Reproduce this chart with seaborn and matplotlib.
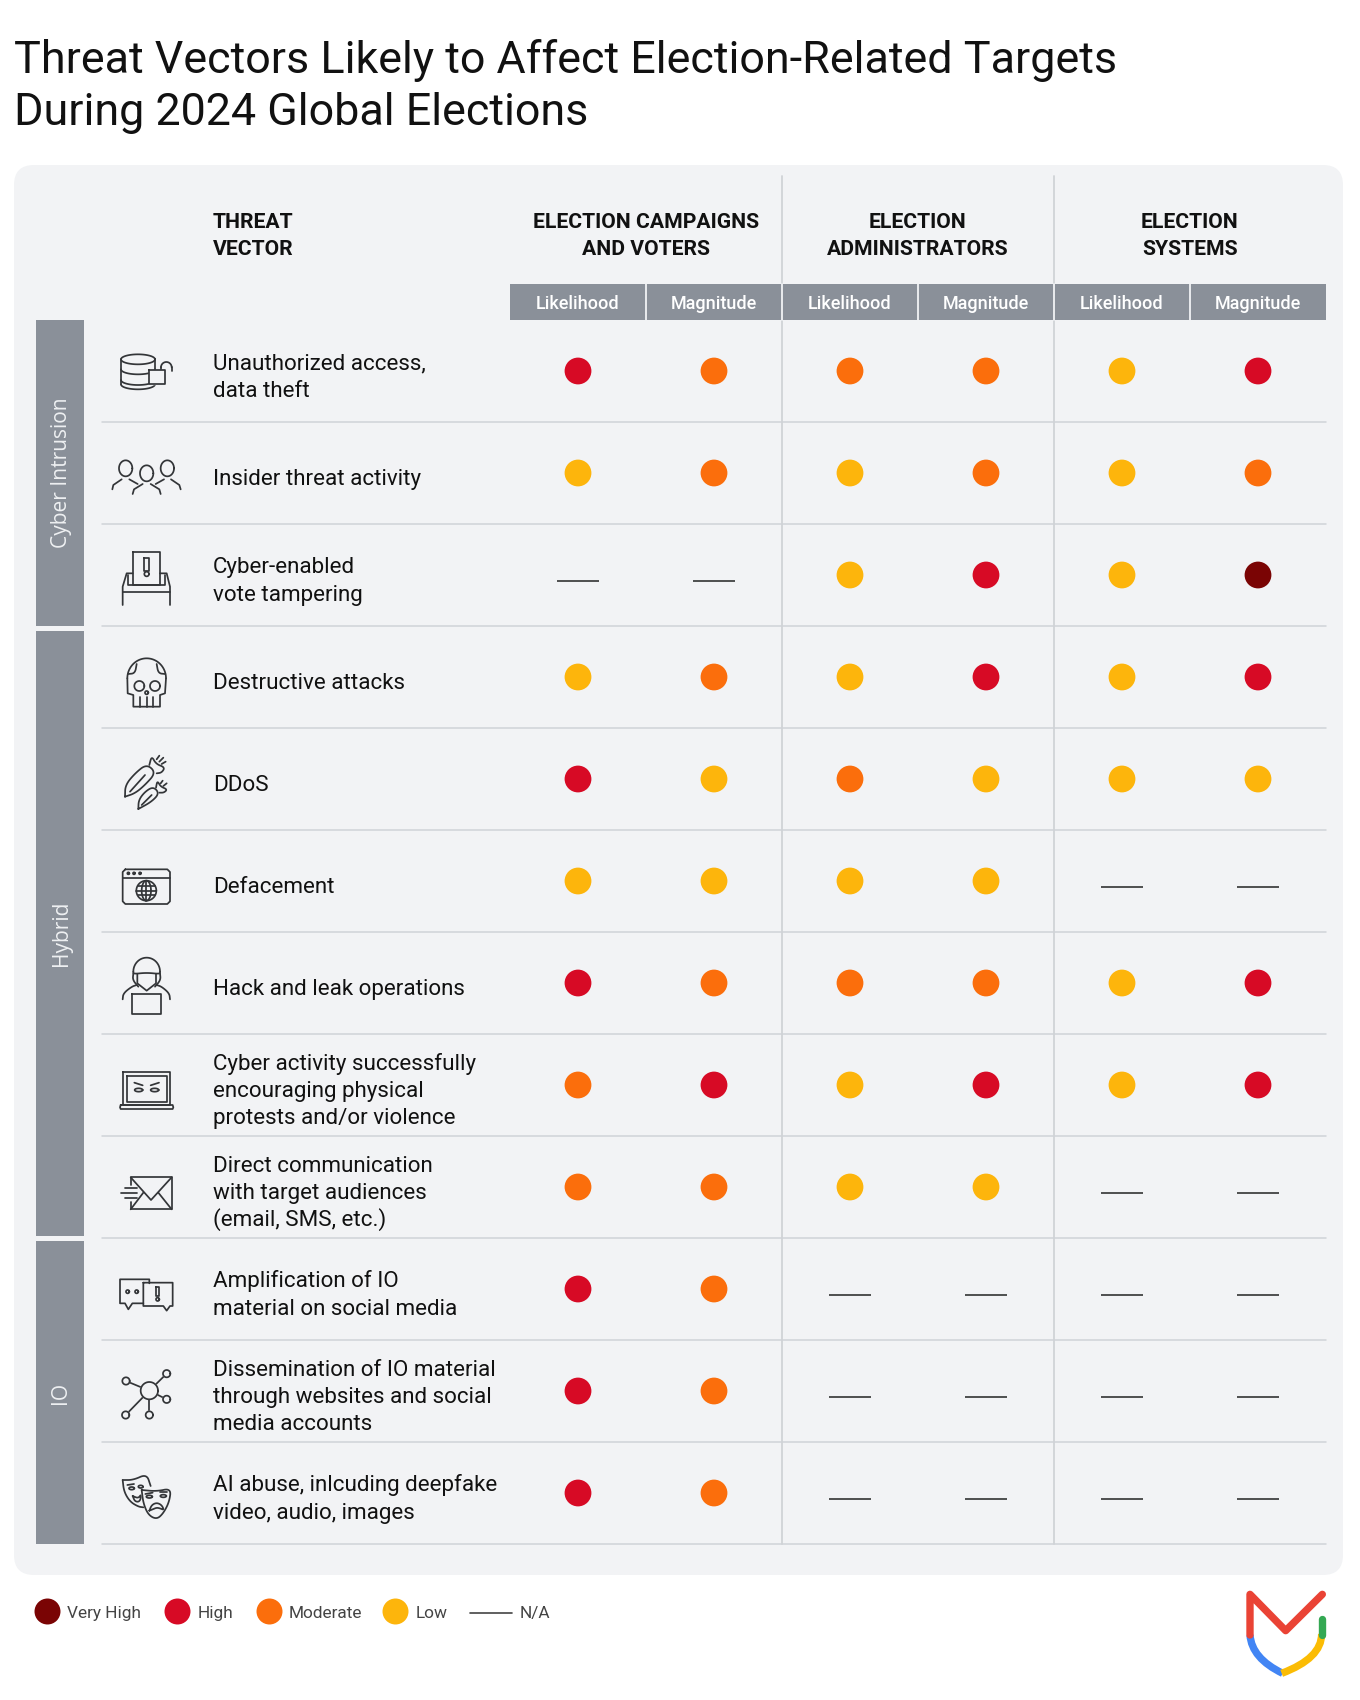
import numpy as np
import pandas as pd
import seaborn as sns
import matplotlib.pyplot as plt
from matplotlib.patches import FancyBboxPatch, PathPatch, Rectangle
from matplotlib.path import Path

# ---- data ----
title_lines = ['Threat Vectors Likely to Affect Election-Related Targets',
               'During 2024 Global Elections']
group_names = ['ELECTION CAMPAIGNS\nAND VOTERS', 'ELECTION\nADMINISTRATORS', 'ELECTION\nSYSTEMS']
sub_names = ['Likelihood', 'Magnitude'] * 3
vectors = ['Unauthorized access,\ndata theft',
           'Insider threat activity',
           'Cyber-enabled\nvote tampering',
           'Destructive attacks',
           'DDoS',
           'Defacement',
           'Hack and leak operations',
           'Cyber activity successfully\nencouraging physical\nprotests and/or violence',
           'Direct communication\nwith target audiences\n(email, SMS, etc.)',
           'Amplification of IO\nmaterial on social media',
           'Dissemination of IO material\nthrough websites and social\nmedia accounts',
           'AI abuse, inlcuding deepfake\nvideo, audio, images']
categories = ['Cyber Intrusion', 'Hybrid', 'IO']

campaign_likelihood = ['High', 'Low', 'N/A', 'Low', 'High', 'Low', 'High', 'Moderate', 'Moderate', 'High', 'High', 'High']
campaign_magnitude = ['Moderate', 'Moderate', 'N/A', 'Moderate', 'Low', 'Low', 'Moderate', 'High', 'Moderate', 'Moderate', 'Moderate', 'Moderate']
admin_likelihood = ['Moderate', 'Low', 'Low', 'Low', 'Moderate', 'Low', 'Moderate', 'Low', 'Low', 'N/A', 'N/A', 'N/A']
admin_magnitude = ['Moderate', 'Moderate', 'High', 'High', 'Low', 'Low', 'Moderate', 'High', 'Low', 'N/A', 'N/A', 'N/A']
system_likelihood = ['Low', 'Low', 'Low', 'Low', 'Low', 'N/A', 'Low', 'Low', 'N/A', 'N/A', 'N/A', 'N/A']
system_magnitude = ['High', 'Moderate', 'Very High', 'High', 'Low', 'N/A', 'High', 'High', 'N/A', 'N/A', 'N/A', 'N/A']

levels = ['Very High', 'High', 'Moderate', 'Low']
level_colors = ['#7a0404', '#d70a25', '#fb6e0c', '#fdb50c']

# ---- long table for the dots ----
columns = [campaign_likelihood, campaign_magnitude, admin_likelihood,
           admin_magnitude, system_likelihood, system_magnitude]
records = []
for c, col in enumerate(columns):
    for r, val in enumerate(col):
        records.append({'col': c, 'row': r, 'level': val})
df = pd.DataFrame(records)

sns.set_style('white')
plt.rcParams['font.family'] = ['Roboto', 'DejaVu Sans']

W, H = 1360, 1700
PX = 0.72  # px -> pt at dpi 100
INK = '#333538'
BG = '#f2f3f5'
SLATE = '#8a9099'
RULE = '#d0d3d7'

fig = plt.figure(figsize=(W / 100, H / 100), dpi=100, facecolor='white')
ax = fig.add_axes([0, 0, 1, 1])
ax.set_xlim(0, W)
ax.set_ylim(H, 0)
ax.axis('off')

# title
for line, base in zip(title_lines, [72.7, 125]):
    ax.text(14, base, line, fontsize=44.9 * PX, color='#111111', va='baseline')

# panel
ax.add_patch(FancyBboxPatch((14, 165), 1329, 1410, boxstyle='round,pad=0,rounding_size=20',
                            fc=BG, ec='none', zorder=0))

# grid geometry
TOP, ROW_H, LEFT, COL_W = 320, 102, 510, 136
for i in range(1, 13):
    ax.plot([102, 1326], [TOP + ROW_H * i] * 2, color=RULE, lw=1.1, zorder=1)
for x in [LEFT + 2 * COL_W, LEFT + 4 * COL_W]:
    ax.plot([x, x], [176, TOP + ROW_H * 12], color=RULE, lw=1.3, zorder=1)

# headers
for txt, base in zip(['THREAT', 'VECTOR'], [227.7, 255]):
    ax.text(213, base, txt, fontsize=21.2 * PX, weight='bold', color='#111111')
for g, name in enumerate(group_names):
    cx = LEFT + COL_W + 2 * COL_W * g
    for txt, base in zip(name.split('\n'), [227.7, 255]):
        ax.text(cx, base, txt, fontsize=21.2 * PX, weight='bold', color='#111111', ha='center')
for i, name in enumerate(sub_names):
    ax.add_patch(Rectangle((LEFT + COL_W * i, 284), COL_W, 36, fc=SLATE, ec='none', zorder=2))
    ax.text(LEFT + COL_W * (i + 0.5), 308.5, name, fontsize=18 * PX, weight='medium', color='white',
            ha='center', zorder=3)
    if i > 0:
        ax.plot([LEFT + COL_W * i] * 2, [284, 320], color='#f2f3f5', lw=1.3, zorder=3)

# side bars
for name, (y0, y1) in zip(categories, [(320, 626), (631, 1236), (1241, 1544)]):
    ax.add_patch(Rectangle((36, y0), 48, y1 - y0, fc=SLATE, ec='none', zorder=2))
    ax.text(61, (y0 + y1) / 2, name, rotation=90, fontsize=21 * PX, color='#eef0f2',
            family=['Open Sans', 'DejaVu Sans'], ha='center', va='center', zorder=3)

# row labels
for r, label in enumerate(vectors):
    lines = label.split('\n')
    mid = TOP + ROW_H * (r + 0.5)
    for k, txt in enumerate(lines):
        base = mid + 12 + (k - (len(lines) - 1) / 2) * 27.3
        ax.text(213, base, txt, fontsize=22.4 * PX, color='#111111')


# ---- dot matrix on its own axes, aligned to the columns and rows ----
dots = fig.add_axes([LEFT / W, 1 - (TOP + ROW_H * 12) / H, COL_W * 6 / W, ROW_H * 12 / H])
dots.patch.set_alpha(0)
sns.scatterplot(data=df[df['level'] != 'N/A'], x='col', y='row', hue='level',
                hue_order=levels, palette=level_colors, s=372, linewidth=0,
                legend=False, ax=dots, zorder=4)
na = df[df['level'] == 'N/A']
dots.hlines(na['row'] + 0.059, na['col'] - 0.158, na['col'] + 0.158, color='#333333', lw=1.2)
dots.set_xlim(-0.5, 5.5)
dots.set_ylim(11.5, -0.5)
dots.axis('off')

# ---- legend ----
for name, color, cx, tx in zip(levels, level_colors, [47, 177, 269, 395], [67, 198, 289, 416]):
    ax.scatter([cx], [1611], s=350, color=color, linewidth=0)
    ax.text(tx, 1618, name, fontsize=17.3 * PX, color='#444444')
ax.plot([470, 512], [1613, 1613], color='#444444', lw=1.2)
ax.text(520, 1618, 'N/A', fontsize=17.3 * PX, color='#444444')


# ---- icons, points read in zoom units (origin + u/3, v/3) ----
LW = 1.25

def smooth(pts, n=3):
    # corner cutting, keeps both ends
    p = np.array(pts, dtype=float)
    for _ in range(n):
        q = p[:-1] * 0.75 + p[1:] * 0.25
        s = p[:-1] * 0.25 + p[1:] * 0.75
        p = np.vstack([p[:1], np.column_stack([q, s]).reshape(-1, 2), p[-1:]])
    return p

def stroke(o, pts, z=6, curve=False, fill=False):
    xy = smooth(pts) if curve else np.array(pts, dtype=float)
    xy = xy / 3 + o
    if fill:
        ax.fill(xy[:, 0], xy[:, 1], color=BG, zorder=z)
    ax.plot(xy[:, 0], xy[:, 1], color=INK, lw=LW, solid_capstyle='round',
            solid_joinstyle='round', zorder=z)

def ring(o, cx, cy, rx, ry=None, t0=0, t1=360, fill=False, z=6):
    ry = rx if ry is None else ry
    t = np.radians(np.linspace(t0, t1, 60))
    xy = np.column_stack([cx + rx * np.cos(t), cy - ry * np.sin(t)]) / 3 + o
    if fill:
        ax.fill(xy[:, 0], xy[:, 1], color=BG, zorder=z)
    ax.plot(xy[:, 0], xy[:, 1], color=INK, lw=LW, zorder=z)

def box(o, u0, v0, u1, v1, fill=False, z=6):
    pts = [(u0, v0), (u1, v0), (u1, v1), (u0, v1), (u0, v0)]
    stroke(o, pts, z=z, fill=fill)

Z6 = np.array([90, 330])
Z4 = np.array([90, 650])
Z5 = np.array([90, 1050])
ZM = np.array([100, 740])
ZK = np.array([110, 1460])

# database + lock
ring(Z6, 144, 88, 51, 15)
for v in [118, 150]:
    ring(Z6, 144, v, 51, 15, 180, 360)
ring(Z6, 144, 163, 51, 15, 180, 360)
stroke(Z6, [(93, 88), (93, 163)])
stroke(Z6, [(195, 88), (195, 120)])
box(Z6, 177, 120, 225, 163, fill=True, z=7)
ring(Z6, 229, 112, 16, 16, 0, 180)
stroke(Z6, [(245, 112), (245, 122)])
stroke(Z6, [(213, 112), (213, 120)])

# three people
ring(Z6, 107, 415, 20, 24)
ring(Z6, 232, 415, 20, 24)
ring(Z6, 170, 430, 20, 24)
stroke(Z6, [(67, 478), (70, 465), (95, 448)])
stroke(Z6, [(118, 448), (143, 462)])
stroke(Z6, [(197, 462), (222, 448)])
stroke(Z6, [(243, 448), (268, 465), (272, 478)])
stroke(Z6, [(128, 492), (132, 478), (158, 462)])
stroke(Z6, [(182, 462), (208, 478), (212, 492)])

# ballot box
box(Z6, 128, 665, 210, 765)
stroke(Z6, [(163, 685), (177, 685), (177, 722), (163, 722), (163, 685)])
ring(Z6, 170, 732, 7)
stroke(Z6, [(128, 730), (110, 730), (98, 770), (98, 825)])
stroke(Z6, [(210, 730), (230, 730), (240, 770), (240, 825)])
stroke(Z6, [(98, 785), (240, 785)])
stroke(Z6, [(113, 735), (113, 765), (225, 765), (225, 735)])

# skull
ring(Z4, 170, 85, 58, 60, 0, 180)
stroke(Z4, [(112, 85), (113, 130), (130, 135), (130, 170), (210, 170), (210, 135), (225, 130), (228, 85)])
ring(Z4, 148, 108, 15)
ring(Z4, 195, 108, 15)
ring(Z4, 170, 128, 5)
for u in [150, 170, 190]:
    stroke(Z4, [(u, 142), (u, 170)])
stroke(Z4, [(114, 72), (135, 70), (140, 42)], curve=True)
stroke(Z4, [(226, 72), (205, 70), (200, 42)], curve=True)

# missiles
stroke(ZM, [(75, 170), (76, 135), (105, 100), (140, 72), (168, 98), (135, 135), (105, 160), (75, 170)], curve=True)
stroke(ZM, [(90, 155), (135, 105)])
stroke(ZM, [(148, 75), (155, 48), (168, 72), (195, 82), (185, 98), (170, 100)], curve=True)
stroke(ZM, [(170, 58), (178, 47)])
stroke(ZM, [(178, 65), (190, 53)])
stroke(ZM, [(185, 72), (197, 65)])
stroke(ZM, [(115, 207), (116, 180), (135, 155), (160, 140), (178, 160), (155, 185), (115, 207)], curve=True)
stroke(ZM, [(125, 195), (155, 165)])
stroke(ZM, [(168, 143), (172, 122), (182, 140), (202, 148), (192, 158), (178, 158)], curve=True)
stroke(ZM, [(182, 130), (188, 122)])
stroke(ZM, [(190, 138), (200, 130)])

# browser + globe
stroke(Z4, [(106, 658), (232, 658), (240, 666), (240, 754), (232, 762), (106, 762), (98, 754), (98, 666), (106, 658)])
stroke(Z4, [(98, 683), (240, 683)])
for u in [115, 132, 150]:
    ring(Z4, u, 670, 3)
ring(Z4, 169, 722, 30)
ring(Z4, 169, 722, 14, 30)
stroke(Z4, [(169, 692), (169, 752)])
for v, half in [(722, 30), (708, 26), (736, 26)]:
    stroke(Z4, [(169 - half, v), (169 + half, v)])

# hacker
ring(Z4, 170, 965, 40, 42, 0, 180)
stroke(Z4, [(130, 965), (130, 972), (170, 968), (210, 972), (210, 965)], curve=True)
stroke(Z4, [(142, 972), (142, 1000), (170, 1022), (198, 1000), (198, 972)])
stroke(Z4, [(130, 970), (128, 990), (145, 1010)], curve=True)
stroke(Z4, [(210, 970), (212, 990), (195, 1010)], curve=True)
stroke(Z4, [(98, 1048), (100, 1030), (125, 1010), (140, 1005)], curve=True)
stroke(Z4, [(240, 1048), (238, 1030), (215, 1010), (200, 1005)], curve=True)
box(Z4, 127, 1033, 213, 1093, fill=True, z=7)

# angry laptop
box(Z4, 100, 1267, 240, 1365)
box(Z4, 110, 1277, 230, 1355)
stroke(Z4, [(92, 1365), (248, 1365), (250, 1372), (248, 1377), (92, 1377), (90, 1372), (92, 1365)])
stroke(Z4, [(133, 1298), (158, 1306)])
stroke(Z4, [(207, 1298), (182, 1306)])
ring(Z4, 146, 1320, 12, 5)
ring(Z4, 194, 1320, 12, 5)

# envelope
stroke(Z5, [(122, 405), (122, 382), (245, 382), (245, 478), (122, 478), (122, 455)])
stroke(Z5, [(122, 382), (183, 450), (245, 382)])
stroke(Z5, [(122, 478), (160, 428)])
stroke(Z5, [(205, 428), (245, 478)])
stroke(Z5, [(105, 415), (140, 415)])
stroke(Z5, [(92, 430), (140, 430)])
stroke(Z5, [(105, 445), (140, 445)])

# chat bubbles
stroke(Z5, [(178, 700), (178, 688), (90, 688), (90, 760), (105, 760), (115, 778), (127, 760), (160, 760)])
ring(Z5, 113, 725, 5)
ring(Z5, 140, 725, 5)
stroke(Z5, [(160, 698), (248, 698), (248, 768), (240, 768), (230, 782), (220, 768), (160, 768), (160, 698)])
stroke(Z5, [(198, 710), (208, 710), (208, 738), (198, 738), (198, 710)])
ring(Z5, 203, 748, 5)

# network
for su, sv in [(108, 993), (230, 971), (230, 1048), (107, 1095), (178, 1095)]:
    stroke(Z5, [(178, 1022), (su, sv)], z=5)
    ring(Z5, su, sv, 11, fill=True)
ring(Z5, 178, 1022, 26, fill=True)

# masks
stroke(ZK, [(38, 60), (70, 60), (110, 42), (122, 78)], curve=True)
stroke(ZK, [(38, 60), (42, 95), (60, 125), (85, 140), (100, 142)], curve=True)
stroke(ZK, [(52, 75), (72, 72)])
ring(ZK, 65, 85, 8, 4)
ring(ZK, 92, 80, 7, 4)
stroke(ZK, [(68, 108), (85, 115), (94, 102), (90, 125), (75, 125), (68, 108)], curve=True)
stroke(ZK, [(95, 90), (140, 94), (183, 85), (178, 125), (160, 160), (140, 178), (115, 165), (100, 130), (95, 90)],
       z=7, curve=True, fill=True)
ring(ZK, 118, 110, 9, 4, z=8)
ring(ZK, 160, 108, 9, 4, z=8)
stroke(ZK, [(106, 102), (128, 98)], z=8)
stroke(ZK, [(172, 96), (150, 96)], z=8)
stroke(ZK, [(118, 152), (125, 135), (140, 128), (155, 135), (162, 150), (150, 145), (140, 143), (128, 148), (118, 152)],
       z=8, curve=True)

# ---- logo ----
LOGO = np.array([1100, 1500])
def logo_curve(pts, color):
    xy = np.array(pts, dtype=float) / 3 + LOGO
    ax.add_patch(PathPatch(Path(xy, [Path.MOVETO, Path.CURVE3, Path.CURVE3]), fc='none', ec=color,
                           lw=5.3, capstyle='butt', zorder=6))

logo_curve([(450, 405), (455, 475), (548, 520)], '#4285f4')
logo_curve([(545, 520), (665, 475), (665, 402)], '#fbbc04')
xy = np.array([(450, 405), (450, 283), (557, 392), (667, 283)], dtype=float) / 3 + LOGO
ax.plot(xy[:, 0], xy[:, 1], color='#ea4335', lw=5.3, solid_capstyle='round', solid_joinstyle='round', zorder=7)
xy = np.array([(665, 405), (665, 358)], dtype=float) / 3 + LOGO
ax.plot(xy[:, 0], xy[:, 1], color='#34a853', lw=5.3, solid_capstyle='round', zorder=6)

fig.savefig('out.png', dpi=100, facecolor='white')
